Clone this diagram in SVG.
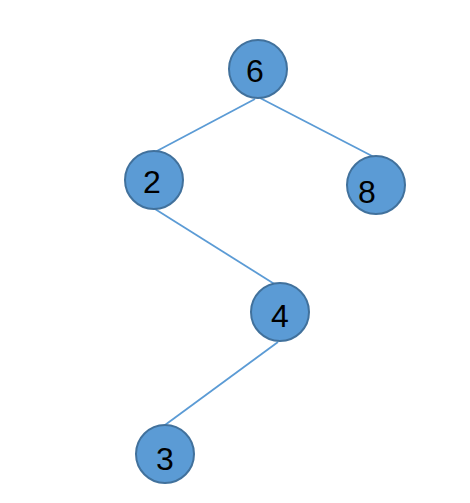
<svg xmlns="http://www.w3.org/2000/svg" width="470" height="503" viewBox="0 0 470 503">
<style>
.n{fill:#5B9BD5;stroke:#41719C;stroke-width:2}
.t{font-family:"Liberation Sans",Arial,sans-serif;font-size:32px;fill:#000;text-anchor:middle}
.e{stroke:#5B9BD5;stroke-width:1.8;fill:none}
</style>
<rect width="470" height="503" fill="#fff"/>
<g id="edges">
<line class="e" x1="255" y1="99" x2="155" y2="152"/>
<line class="e" x1="260" y1="98" x2="374" y2="157"/>
<line class="e" x1="155" y1="209" x2="276" y2="285"/>
<line class="e" x1="278" y1="342" x2="165" y2="425"/>
</g>
<g id="n6"><circle class="n" cx="258" cy="69" r="29"/><text class="t" x="255" y="82">6</text></g>
<g id="n2"><circle class="n" cx="154" cy="180" r="29"/><text class="t" x="152" y="193">2</text></g>
<g id="n8"><circle class="n" cx="376" cy="185" r="29"/><text class="t" x="367" y="203">8</text></g>
<g id="n4"><circle class="n" cx="280" cy="312" r="29"/><text class="t" x="280" y="327">4</text></g>
<g id="n3"><circle class="n" cx="165" cy="454" r="29"/><text class="t" x="165" y="470">3</text></g>
</svg>
